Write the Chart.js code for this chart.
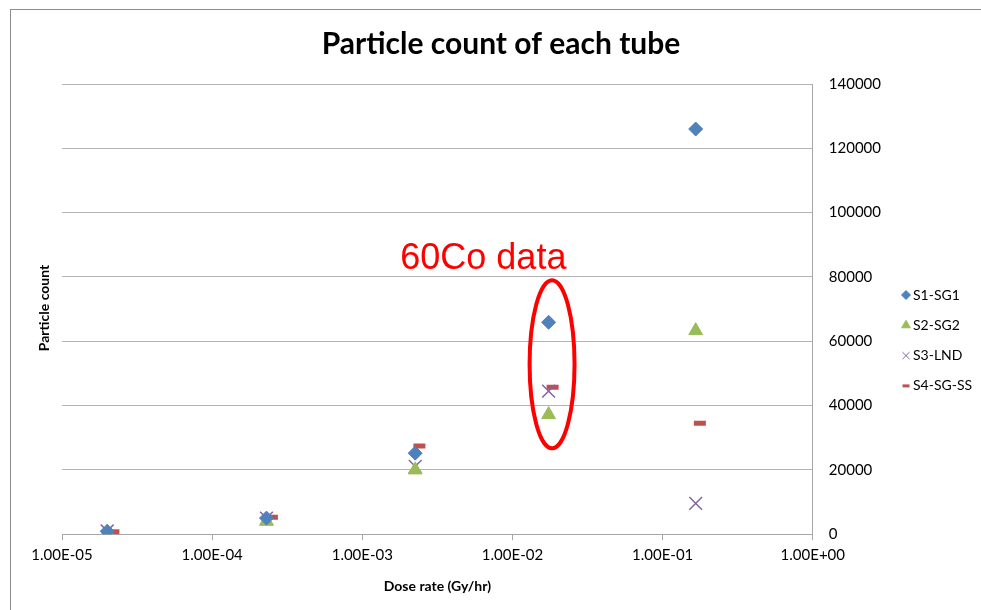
<!DOCTYPE html>
<html>
<head>
<meta charset="utf-8">
<script src="https://cdn.jsdelivr.net/npm/chart.js@4/dist/chart.umd.min.js"></script>
<style>
    html, body { margin: 0; padding: 0; background: #fff; }
    #box { width: 981px; height: 610px; position: relative; }
</style>
</head>
<body>
<div id="box"><canvas id="chart"></canvas></div>
<script>
// dose rate (Gy/hr) for each tube
const s1Dose = [2.0e-5, 2.3e-4, 2.25e-3, 1.74e-2, 1.66e-1];
const s1Count = [900, 5000, 25200, 65900, 126000];

const s2Dose = [2.0e-5, 2.3e-4, 2.25e-3, 1.74e-2, 1.66e-1];
const s2Count = [500, 4000, 20000, 37200, 63300];

const s3Dose = [2.0e-5, 2.3e-4, 2.25e-3, 1.74e-2, 1.66e-1];
const s3Count = [1000, 5000, 21100, 44500, 9600];

const s4Dose = [2.2e-5, 2.5e-4, 2.4e-3, 1.85e-2, 1.77e-1];
const s4Count = [800, 5300, 27400, 45700, 34500];

const xTicks = [1e-5, 1e-4, 1e-3, 1e-2, 1e-1, 1];
const xTickLabels = ['1.00E-05', '1.00E-04', '1.00E-03', '1.00E-02', '1.00E-01', '1.00E+00'];

// 60Co callout, in data units
const coLabel = '60Co data';
const coLabelAt = { x: 1.79e-3, y: 82500 };
const coEllipse = { xMin: 1.30e-2, xMax: 2.59e-2, yMin: 26700, yMax: 79000 };

const points = (xs, ys) => xs.map((x, i) => ({ x: x, y: ys[i] }));

// legend marker sizes are smaller than the plotted ones
const legendRadius = [4.5, 5, 5, 3.5];

const frame = {
    id: 'frame',
    beforeDraw(chart) {
        const ctx = chart.ctx;
        ctx.save();
        ctx.strokeStyle = '#8c8c8c';
        ctx.lineWidth = 1;
        ctx.strokeRect(10.5, 9.5, chart.width, chart.height);
        ctx.restore();
    },
    afterDraw(chart) {
        const ctx = chart.ctx;
        ctx.save();
        ctx.fillStyle = '#000';
        ctx.textAlign = 'center';
        ctx.textBaseline = 'middle';
        ctx.font = 'bold 30px Lato';
        ctx.fillText('Particle count of each tube', 501, 44);

        ctx.translate(44, 308);
        ctx.rotate(-Math.PI / 2);
        ctx.font = 'bold 14px Lato';
        ctx.fillText('Particle count', 0, 0);
        ctx.restore();

        // legend
        ctx.save();
        ctx.font = '14px Lato';
        ctx.textBaseline = 'middle';
        chart.data.datasets.forEach((ds, i) => {
            const y = 295 + i * 30.3;
            ctx.fillStyle = ds.backgroundColor;
            ctx.strokeStyle = ds.borderColor;
            ctx.lineWidth = ds.pointStyle === 'line' ? 3 : 1;
            Chart.helpers.drawPoint(ctx, {
                pointStyle: ds.pointStyle,
                radius: legendRadius[i],
                rotation: 0,
                borderWidth: ctx.lineWidth
            }, 906, y);
            ctx.fillStyle = '#000';
            ctx.fillText(ds.label, 913, y);
        });
        ctx.restore();
    }
};

const callout = {
    id: 'callout',
    afterDatasetsDraw(chart) {
        const x = chart.scales.x, y = chart.scales.y;
        const ctx = chart.ctx;
        const l = x.getPixelForValue(coEllipse.xMin), r = x.getPixelForValue(coEllipse.xMax);
        const t = y.getPixelForValue(coEllipse.yMax), b = y.getPixelForValue(coEllipse.yMin);
        ctx.save();
        ctx.strokeStyle = '#ff0000';
        ctx.lineWidth = 4;
        ctx.beginPath();
        ctx.ellipse((l + r) / 2, (t + b) / 2, (r - l) / 2, (b - t) / 2, 0, 0, Math.PI * 2);
        ctx.stroke();
        ctx.font = '36px "Liberation Sans"';
        ctx.fillStyle = '#ff0000';
        ctx.textBaseline = 'alphabetic';
        ctx.fillText(coLabel, x.getPixelForValue(coLabelAt.x), y.getPixelForValue(coLabelAt.y));
        ctx.restore();
    }
};

new Chart(document.getElementById('chart'), {
    type: 'scatter',
    data: {
        datasets: [
            { label: 'S1-SG1', data: points(s1Dose, s1Count), pointStyle: 'rectRot', pointRadius: 7, pointHoverRadius: 7,
              backgroundColor: '#4f81bd', borderColor: '#4f81bd', borderWidth: 1 },
            { label: 'S2-SG2', data: points(s2Dose, s2Count), pointStyle: 'triangle', pointRadius: 8, pointHoverRadius: 8,
              backgroundColor: '#9bbb59', borderColor: '#9bbb59', borderWidth: 1 },
            { label: 'S3-LND', data: points(s3Dose, s3Count), pointStyle: 'crossRot', pointRadius: 9, pointHoverRadius: 9,
              backgroundColor: '#8064a2', borderColor: '#8064a2', borderWidth: 1.5 },
            { label: 'S4-SG-SS', data: points(s4Dose, s4Count), pointStyle: 'line', pointRadius: 6, pointHoverRadius: 6,
              backgroundColor: '#c0504d', borderColor: '#c0504d', borderWidth: 5 }
        ]
    },
    options: {
        responsive: true,
        maintainAspectRatio: false,
        animation: false,
        layout: { padding: { left: 62, right: 84, top: 84, bottom: 15 } },
        plugins: {
            title: { display: false },
            legend: { display: false },
            tooltip: { enabled: false }
        },
        scales: {
            x: {
                type: 'logarithmic',
                min: 1e-5,
                max: 1,
                afterBuildTicks: scale => { scale.ticks = xTicks.map(v => ({ value: v })); },
                ticks: {
                    color: '#000',
                    font: { family: 'Lato', size: 15 },
                    padding: 6,
                    maxRotation: 0,
                    autoSkip: false,
                    callback: (v, i) => xTickLabels[i]
                },
                grid: { drawOnChartArea: false, drawTicks: true, tickLength: 6, color: '#a6a6a6' },
                border: { display: true, color: '#a6a6a6' },
                title: {
                    display: true,
                    text: 'Dose rate (Gy/hr)',
                    color: '#000',
                    font: { family: 'Lato', size: 14, weight: 'bold' },
                    padding: { top: 8, bottom: 0 }
                }
            },
            y: {
                position: 'right',
                min: 0,
                max: 140000,
                ticks: {
                    stepSize: 20000,
                    color: '#000',
                    font: { family: 'Lato', size: 15 },
                    padding: 16,
                    callback: v => String(v)
                },
                grid: { color: '#b3b3b3', drawTicks: false },
                border: { display: true, color: '#a6a6a6' }
            }
        }
    },
    plugins: [frame, callout]
});
</script>
</body>
</html>
